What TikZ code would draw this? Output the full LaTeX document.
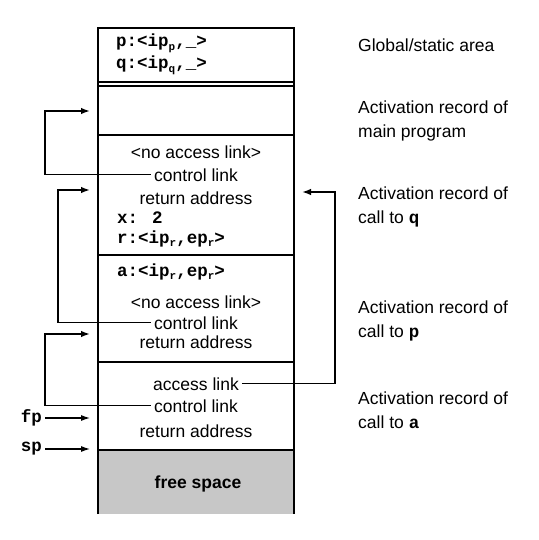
\documentclass[tikz,border=0pt]{standalone}
\usepackage{fontspec}
\setmainfont{Liberation Sans}
\newfontfamily\codefont{Liberation Mono}
\usetikzlibrary{arrows.meta}
\newcommand{\cdsub}[1]{\raisebox{-3.5pt}{\fontsize{11}{11}\selectfont #1}}
\begin{document}
\begin{tikzpicture}[x=1pt,y=-1pt,
  boxline/.style={line width=1.8pt},
  link/.style={line width=1.5pt,-{Latex[length=9pt,width=6.5pt]}},
  ptr/.style={line width=1.1pt,-{Latex[length=9pt,width=6pt]}},
  txt/.style={font=\fontsize{17.5}{20}\selectfont,anchor=base,inner sep=3pt},
  code/.style={font=\fontsize{17.5}{20}\selectfont\codefont\bfseries,anchor=base west,inner sep=0pt},
  lab/.style={font=\fontsize{17.5}{24}\selectfont,anchor=north west,inner sep=0pt,align=left},
]
\useasboundingbox (0,0) rectangle (538,540);

% free space
\fill[black!22] (98,450) rectangle (294,514);

% stack frame outline and separators
\draw[boxline] (98,514) -- (98,28) -- (294,28) -- (294,514);
\draw[boxline] (98,82) -- (294,82);
\draw[boxline] (98,86) -- (294,86);
\draw[boxline] (98,135) -- (294,135);
\draw[boxline] (98,255) -- (294,255);
\draw[boxline] (98,362) -- (294,362);
\draw[boxline] (98,450) -- (294,450);

% global area
\node[code] (gp) at (116,47) {p:<ip\cdsub{p},\_>};
\node[code] (gq) at (116,69) {q:<ip\cdsub{q},\_>};

% call to q
\node[txt] (qnal) at (196,158) {<no access link>};
\node[txt] (qcl)  at (196,181) {control link};
\node[txt] (qra)  at (196,204) {return address};
\node[code] (qx)  at (117,223) {x: 2};
\node[code] (qr)  at (117,243) {r:<ip\cdsub{r},ep\cdsub{r}>};

% call to p
\node[code] (pa)  at (117,276) {a:<ip\cdsub{r},ep\cdsub{r}>};
\node[txt] (pnal) at (196,308) {<no access link>};
\node[txt] (pcl)  at (196,329) {control link};
\node[txt] (pra)  at (196,348) {return address};

% call to a
\node[txt] (aal)  at (196,390) {access link};
\node[txt] (acl)  at (196,412) {control link};
\node[txt] (ara)  at (196,437) {return address};

% free space
\node[font=\fontsize{17.5}{20}\selectfont\bfseries,anchor=base] (fs) at (198,488) {free space};

% pointers fp, sp
\node[font=\fontsize{17.5}{20}\selectfont\codefont\bfseries,anchor=east,inner sep=0pt] (fp) at (42,418) {fp};
\node[font=\fontsize{17.5}{20}\selectfont\codefont\bfseries,anchor=east,inner sep=0pt] (sp) at (42,449) {sp};
\coordinate (tfp) at (90,418);
\coordinate (tsp) at (90,449);
\draw[ptr] (fp.east) ++(3,0) -- (tfp);
\draw[ptr] (sp.east) ++(3,0) -- (tsp);

% link targets and corners
\coordinate (tmain) at (90,111);
\coordinate (k1) at (45,111);
\coordinate (tq) at (90,190);
\coordinate (k2) at (58,190);
\coordinate (tp) at (90,334);
\coordinate (k3) at (45,334);
\coordinate (tqr) at (302,192);
\coordinate (k4) at (335,192);

\draw[link] (qcl.west) -| (k1) -- (tmain);
\draw[link] (pcl.west) -| (k2) -- (tq);
\draw[link] (acl.west) -| (k3) -- (tp);
\draw[link] (aal.east) -| (k4) -- (tqr);

% right-hand labels
\node[lab] (lg) at (358,38.2) {Global/static area};
\node[lab] (lm) at (358,100.2) {Activation record of\\main program};
\node[lab] (lq) at (358,186.2) {Activation record of\\call to {\codefont\bfseries q}};
\node[lab] (lp) at (358,300.2) {Activation record of\\call to {\codefont\bfseries p}};
\node[lab] (la) at (358,391.2) {Activation record of\\call to {\codefont\bfseries a}};
\end{tikzpicture}
\end{document}
